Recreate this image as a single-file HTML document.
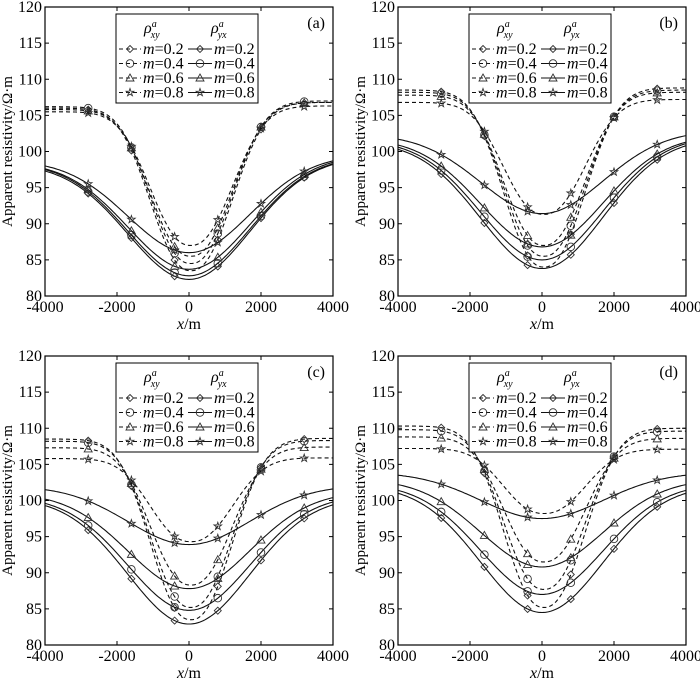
<!DOCTYPE html>
<html><head><meta charset="utf-8"><style>
body{margin:0;background:#fff}
svg{display:block;font-family:"Liberation Serif",serif}
</style></head><body>
<svg id="s" width="700" height="680" xmlns="http://www.w3.org/2000/svg"></svg>
<script>
const S=document.getElementById('s');let h='';
const panels=[
 {x0:45,y0:7,lab:'(a)',sol:[[97.3,82.3,98.2],[97.5,82.8,98.3],[97.6,83.7,98.5],[98,86,98.7]],
  das:[[106,83.5,106.8],[106.2,84.5,107],[105.8,85.5,106.8],[105.5,87,106.3]]},
 {x0:398,y0:7,lab:'(b)',sol:[[100.3,83.8,100.8],[100.6,85,101.1],[100.9,86.8,101.3],[101.7,91.4,102.2]],
  das:[[108.5,84,108.8],[108.2,85.5,108.5],[107.8,87,108.2],[106.8,91.3,107.2]]},
 {x0:45,y0:356,lab:'(c)',sol:[[99.3,82.9,99.4],[99.6,84.8,99.8],[100.2,87.8,100.4],[101.5,93.9,101.6]],
  das:[[108.5,83.5,108.6],[108.2,85.2,108.3],[107.3,88.3,107.4],[105.8,94.3,105.9]]},
 {x0:398,y0:356,lab:'(d)',sol:[[101,84.5,101],[101.4,87,101.4],[102.2,90.8,102.2],[103.5,97.5,103.5]],
  das:[[110.3,85.2,110],[109.8,87.7,109.6],[108.8,91.5,108.6],[107.2,98.2,107.1]]}
];
const W=288,H=289;
function mk(t,x,y){
 const st='fill="none" stroke="#333" stroke-width="0.9"';
 if(t==0)return `<path d="M${x} ${y-3.5}L${x+3.5} ${y}L${x} ${y+3.5}L${x-3.5} ${y}Z" ${st}/>`;
 if(t==1)return `<circle cx="${x}" cy="${y}" r="3.8" ${st}/>`;
 if(t==2)return `<path d="M${x} ${y-4}L${x+4} ${y+3}L${x-4} ${y+3}Z" ${st}/>`;
 let p='';for(let i=0;i<10;i++){const r=i%2?1.6:4,a=-Math.PI/2+i*Math.PI/5;p+=(i?'L':'M')+(x+r*Math.cos(a)).toFixed(1)+' '+(y+r*Math.sin(a)).toFixed(1);}
 return `<path d="${p}Z" ${st}/>`;
}
const e4=Math.exp(-Math.pow(4000/2400,2));
function fs(x){return (Math.exp(-Math.pow(x/2400,2))-e4)/(1-e4);}
function fd(x){const w=x<0?1450:1500;return Math.exp(-Math.pow(Math.abs(x-50)/w,2.3));}
for(const P of panels){
 const X=v=>P.x0+(v+4000)/8000*W, Y=v=>P.y0+H-(v-80)/40*H;
 h+=`<rect x="${P.x0}" y="${P.y0}" width="${W}" height="${H}" fill="none" stroke="#000" stroke-width="1.2"/>`;
 for(let v=80;v<=120;v+=5){const y=Y(v);h+=`<line x1="${P.x0}" x2="${P.x0+4}" y1="${y}" y2="${y}" stroke="#000"/><line x1="${P.x0+W}" x2="${P.x0+W-4}" y1="${y}" y2="${y}" stroke="#000"/><text x="${P.x0-3}" y="${y+5}" font-size="16" text-anchor="end">${v}</text>`;}
 for(let v=-4000;v<=4000;v+=2000){const x=X(v);h+=`<line x1="${x}" x2="${x}" y1="${P.y0+H}" y2="${P.y0+H-4}" stroke="#000"/><line x1="${x}" x2="${x}" y1="${P.y0}" y2="${P.y0+4}" stroke="#000"/><text x="${x}" y="${P.y0+H+16}" font-size="16" text-anchor="middle">${v}</text>`;}
 h+=`<text x="${P.x0+W/2}" y="${P.y0+H+33}" font-size="16" text-anchor="middle"><tspan font-style="italic">x</tspan>/m</text>`;
 h+=`<text transform="translate(${P.x0-33},${P.y0+H/2}) rotate(-90)" font-size="15" text-anchor="middle">Apparent resistivity/Ω·m</text>`;
 h+=`<text x="${P.x0+W-8}" y="${P.y0+21}" font-size="16" text-anchor="end">${P.lab}</text>`;
 const mx=[-2800,-1600,-400,800,2000,3200];
 for(let k=0;k<4;k++){
  const [a,m,b]=P.sol[k];let d='';
  const ys=x=>{const e=x<0?a:b;return e-(e-m)*fs(x);};
  for(let x=-4000;x<=4000;x+=50)d+=(x==-4000?'M':'L')+X(x).toFixed(1)+' '+Y(ys(x)).toFixed(1);
  h+=`<path d="${d}" fill="none" stroke="#111" stroke-width="1.1"/>`;
  for(const x of mx)h+=mk(k,X(x),Y(ys(x)));
  const [c,n,e]=P.das[k];d='';
  const yd=x=>{const p=x<0?c:e;return p-(p-n)*fd(x);};
  for(let x=-4000;x<=4000;x+=40)d+=(x==-4000?'M':'L')+X(x).toFixed(1)+' '+Y(yd(x)).toFixed(1);
  h+=`<path d="${d}" fill="none" stroke="#111" stroke-width="1.1" stroke-dasharray="4,3"/>`;
  for(const x of mx)h+=mk(k,X(x),Y(yd(x)));
 }
 const lx=P.x0+71,ly=P.y0+7;
 h+=`<rect x="${lx}" y="${ly}" width="142" height="89" fill="#fff" stroke="#000" stroke-width="1"/>`;
 h+=`<text x="${lx+28}" y="${ly+19}" font-size="16" font-style="italic">ρ<tspan font-size="10" dy="-6">a</tspan><tspan font-size="10" dx="-6" dy="11">xy</tspan></text>`;
 h+=`<text x="${lx+95}" y="${ly+19}" font-size="16" font-style="italic">ρ<tspan font-size="10" dy="-6">a</tspan><tspan font-size="10" dx="-6" dy="11">yx</tspan></text>`;
 const ms=['0.2','0.4','0.6','0.8'];
 for(let k=0;k<4;k++){const y=ly+35+k*14.5;
  h+=`<line x1="${lx+3}" x2="${lx+25}" y1="${y}" y2="${y}" stroke="#111" stroke-dasharray="4,3"/>`+mk(k,lx+14,y);
  h+=`<text x="${lx+27}" y="${y+5}" font-size="16"><tspan font-style="italic">m</tspan>=${ms[k]}</text>`;
  h+=`<line x1="${lx+72}" x2="${lx+96}" y1="${y}" y2="${y}" stroke="#111"/>`+mk(k,lx+84,y);
  h+=`<text x="${lx+98}" y="${y+5}" font-size="16"><tspan font-style="italic">m</tspan>=${ms[k]}</text>`;
 }
}
S.innerHTML=h;
</script>
</body></html>
